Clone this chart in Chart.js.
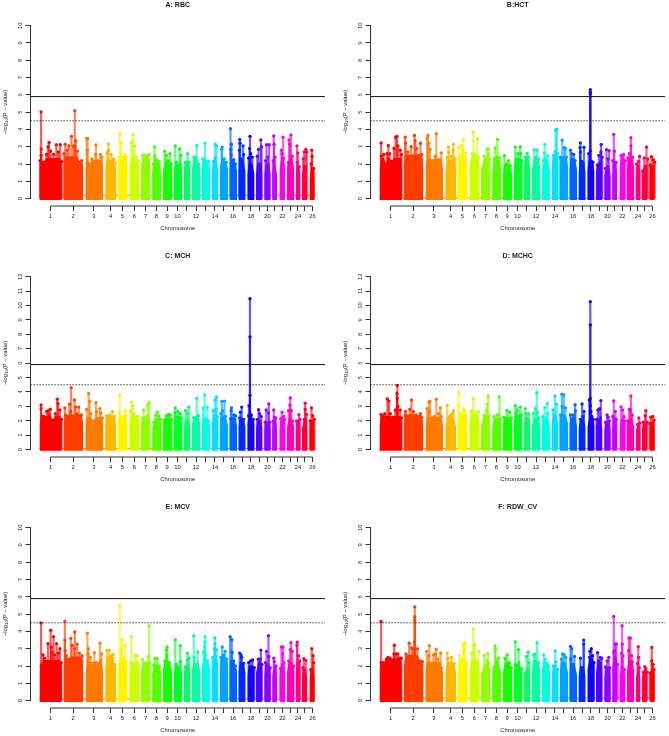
<!DOCTYPE html>
<html>
<head>
<meta charset="utf-8">
<title>Manhattan plots</title>
<script src="https://cdn.jsdelivr.net/npm/chart.js@4"></script>
<style>
  body { margin: 0; background: #fff; }
  #page { position: relative; width: 669px; height: 736px; overflow: hidden; }
  canvas { position: absolute; }
</style>
</head>
<body>
<div id="page">
  <canvas id="rbc" width="329" height="250" style="left:0;top:0"></canvas>
  <canvas id="hct" width="329" height="250" style="left:340px;top:0"></canvas>
  <canvas id="mch" width="329" height="250" style="left:0;top:251px"></canvas>
  <canvas id="mchc" width="329" height="250" style="left:340px;top:251px"></canvas>
  <canvas id="mcv" width="329" height="250" style="left:0;top:502px"></canvas>
  <canvas id="rdw" width="329" height="250" style="left:340px;top:502px"></canvas>
</div>
<script>
// x values are marker positions along the genome, y values are -log10(P)
const chromStart = [0, 73, 139, 199, 236, 272, 307, 341, 373, 406, 436, 461, 491, 521, 545, 575, 602, 629, 655, 680, 704, 726, 749, 775, 794, 817];
const chromEnd = [68, 133, 193, 232, 267, 303, 336, 369, 402, 432, 457, 487, 516, 541, 571, 598, 624, 651, 675, 700, 719, 744, 771, 790, 811, 833];
const tickPositions = [34, 102, 165, 215, 251, 287, 321, 354, 386, 418, 446, 474, 503, 531, 558, 586, 613, 640, 665, 690, 712, 735, 760, 782, 802, 826];
const tickLabels = ['1', '2', '3', '4', '5', '6', '7', '8', '9', '10', '', '12', '', '14', '', '16', '', '18', '', '20', '', '22', '', '24', '', '26'];
const chromColors = ['#FF0000', '#FF3D00', '#FF7A00', '#FFB800', '#FFF500', '#CCFF00', '#8FFF00', '#52FF00', '#14FF00', '#00FF29', '#00FF66', '#00FFA3', '#00FFE0',
    '#00E0FF', '#00A3FF', '#0066FF', '#0029FF', '#1400FF', '#5200FF', '#8F00FF', '#CC00FF', '#FF00F5', '#FF00B8', '#FF007A', '#FF003D', '#FF0000'];

const genomeWideLine = 5.9;
const suggestiveLine = 4.5;

// height of the solid block of markers, per chromosome
const rbcCore = [2.0, 2.1, 1.9, 1.9, 2.1, 2.0, 2.1, 1.8, 1.8, 1.8, 1.9, 2.0, 2.0, 1.9, 2.0, 1.9, 1.9, 1.7, 1.7, 1.7, 1.7, 2.0, 2.0, 1.6, 1.6, 1.4];
const hctCore = [2.0, 2.2, 2.0, 1.9, 2.2, 2.2, 2.0, 1.9, 1.7, 2.0, 2.0, 2.0, 1.9, 2.2, 2.1, 2.0, 1.8, 1.9, 1.8, 1.6, 1.8, 2.0, 2.0, 1.6, 1.6, 1.6];
const mchCore = [2.0, 2.1, 1.9, 2.0, 2.1, 2.0, 2.0, 1.8, 1.9, 2.0, 1.8, 2.0, 1.9, 2.1, 2.0, 1.9, 1.9, 2.0, 1.7, 1.6, 1.8, 1.8, 1.8, 1.7, 1.8, 1.7];
const mchcCore = [2.0, 2.1, 1.9, 1.9, 2.1, 2.1, 2.0, 1.8, 1.9, 2.1, 1.9, 1.8, 1.9, 2.0, 2.1, 1.9, 1.8, 1.9, 1.8, 1.6, 1.9, 1.8, 1.8, 1.5, 1.6, 1.6];
const mcvCore = [2.0, 2.2, 1.9, 2.2, 2.1, 1.9, 1.9, 1.8, 2.0, 1.8, 1.8, 2.0, 2.2, 2.3, 2.2, 2.0, 1.9, 1.7, 1.9, 1.8, 1.7, 1.8, 1.9, 1.9, 1.5, 1.5];
const rdwCore = [2.1, 2.3, 1.9, 1.9, 2.1, 2.0, 1.8, 1.9, 1.9, 1.8, 1.6, 2.0, 2.0, 1.7, 1.9, 1.8, 1.7, 2.1, 1.9, 1.6, 2.2, 1.7, 2.0, 1.5, 1.5, 1.5];

// thin red line near the bottom of each panel
const rbcFloor = 0.2;
const hctFloor = 0.02;
const mchFloor = 0.08;
const mchcFloor = 0.08;
const mcvFloor = 0.1;
const rdwFloor = 0.15;

const rbcPeaks = [[5,5.02],[5,2.87],[5,2.5],[2,2.2],[11,2.1],[21,2.55],[26,3.0],[29,3.25],[34,2.75],[43,2.55],[51,3.12],[57,2.7],[63,3.12],[67,2.15],
    [74,2.6],[78,3.15],[84,2.8],[89,3.05],[97,3.6],[103,3.05],[107,5.08],[107,3.0],[110,3.35],[115,2.75],[122,2.1],[128,2.2],
    [143,3.48],[146,3.48],[145,2.8],[153,2.0],[159,2.3],[170,2.55],[171,3.1],[177,2.2],[184,2.55],[189,2.4],
    [204,2.65],[209,3.17],[208,2.8],[217,2.55],[225,2.3],[229,2.05],[243,3.75],[247,3.25],[241,2.4],[253,2.4],[259,2.55],[263,2.4],
    [278,3.25],[283,3.72],[288,3.05],[293,2.4],[298,2.2],[312,2.52],[318,2.5],[325,2.5],[332,2.55],[348,3.0],[349,2.45],[354,2.25],[362,2.15],[345,2.0],
    [379,2.75],[384,2.5],[389,2.2],[395,2.6],[399,2.0],[411,3.05],[414,2.1],[419,1.9],[424,2.88],[428,2.5],[441,2.1],[448,2.6],[453,2.1],
    [467,2.4],[476,3.07],[473,2.4],[482,2.0],[494,2.3],[501,3.2],[507,2.15],[512,2.15],[526,2.15],[532,3.15],[536,3.05],[531,2.35],
    [553,2.98],[551,2.85],[559,2.3],[565,2.1],[578,4.05],[581,3.15],[579,2.85],[580,2.55],[588,2.25],[593,2.0],
    [606,3.42],[607,3.2],[605,2.8],[610,2.3],[616,3.05],[618,2.55],[637,3.6],[636,2.9],[639,2.6],[644,2.4],[633,2.35],
    [663,2.85],[659,2.45],[670,3.4],[666,2.0],[672,3.0],[687,3.12],[695,3.12],[691,2.4],[684,2.2],[709,3.62],[710,3.15],[713,2.4],[707,2.2],
    [737,3.55],[732,2.8],[734,2.6],[739,2.35],[755,3.4],[761,3.68],[758,3.15],[765,2.45],[753,2.1],[779,3.05],[782,2.65],[780,2.1],[786,1.85],
    [801,2.7],[806,2.85],[798,2.3],[809,2.7],[824,2.8],[825,2.45],[822,2.0],[830,1.75]];

const hctPeaks = [[5,3.22],[6,2.45],[13,2.55],[21,2.0],[27,3.07],[23,2.6],[31,2.6],[38,2.15],[44,2.9],[49,3.55],[53,3.6],[56,3.05],[63,2.8],[67,2.55],
    [78,3.55],[79,3.22],[86,2.7],[96,3.0],[106,3.65],[108,3.35],[113,2.9],[124,3.2],[119,2.5],[128,2.55],
    [144,3.5],[147,3.67],[149,3.2],[153,2.85],[162,2.2],[169,2.45],[172,3.75],[180,2.25],[187,2.65],
    [205,2.4],[209,2.98],[210,2.7],[218,2.45],[224,3.15],[223,2.8],[229,2.3],[240,2.98],[249,3.05],[254,3.42],[253,2.8],[261,2.65],
    [280,2.6],[284,3.85],[292,2.55],[297,3.48],[299,2.4],[317,2.45],[325,2.85],[330,2.88],[329,2.6],[333,2.3],
    [350,2.92],[357,3.43],[356,2.4],[364,2.35],[347,2.3],[378,2.48],[384,2.0],[391,2.2],[396,1.9],
    [411,2.98],[414,2.3],[419,2.6],[426,3.0],[427,2.6],[431,2.2],[441,2.4],[447,2.62],[451,2.4],[468,2.83],[477,2.8],[473,2.4],[481,2.3],
    [500,3.14],[499,2.65],[509,2.48],[496,2.2],[504,2.3],[533,3.97],[537,4.0],[531,2.7],[526,2.5],[539,2.6],
    [553,3.38],[559,2.95],[547,2.4],[563,2.9],[566,2.4],[578,2.8],[582,2.6],[588,2.55],[592,2.2],
    [608,3.22],[607,2.95],[608,2.7],[619,2.97],[613,2.15],[616,2.0],[638,6.3],[638,6.15],[638,6.05],[638,2.75],[633,2.6],[642,2.15],[646,2.1],
    [664,2.5],[671,3.13],[670,2.7],[674,2.4],[659,1.95],[687,2.83],[695,2.78],[691,2.3],[684,1.75],[709,3.72],[711,2.75],[706,2.2],[716,2.1],
    [731,2.5],[739,2.55],[735,2.45],[744,2.2],[761,3.52],[761,3.05],[756,2.6],[766,2.4],[752,2.35],[787,2.45],[784,2.15],[778,2.0],
    [808,2.98],[801,2.35],[812,2.3],[796,1.6],[823,2.42],[829,2.25],[819,1.95],[833,2.1]];

const mchPeaks = [[5,3.1],[5,2.85],[8,2.3],[13,2.3],[22,2.65],[27,2.7],[33,2.8],[29,2.4],[41,2.05],[48,2.5],[54,3.5],[56,3.2],[62,2.75],[67,2.1],
    [77,2.9],[79,2.4],[91,3.15],[96,4.3],[95,2.65],[106,3.45],[109,2.95],[119,2.95],[113,2.5],[127,2.4],
    [143,2.8],[149,3.9],[152,3.35],[155,2.5],[164,2.0],[171,3.25],[173,2.65],[183,2.85],[186,2.55],[190,2.2],
    [203,2.35],[212,2.4],[221,2.65],[227,2.3],[243,3.78],[242,2.6],[253,2.3],[260,2.7],[262,2.35],
    [276,2.65],[279,3.3],[283,3.05],[286,2.5],[294,2.3],[299,2.3],[315,2.75],[312,2.2],[327,3.1],[332,3.25],[324,2.3],
    [351,2.4],[357,2.6],[362,2.3],[346,1.9],[366,2.1],[377,2.05],[384,2.35],[391,2.45],[396,2.4],[400,2.1],
    [411,2.9],[410,2.55],[419,2.65],[426,2.5],[430,2.2],[442,2.7],[452,2.95],[448,2.5],[445,1.9],[467,2.25],[476,3.57],[481,2.35],[473,2.2],
    [495,2.9],[500,3.8],[508,2.95],[506,2.1],[512,2.0],[526,2.7],[531,3.45],[536,3.65],[534,2.8],[538,2.3],
    [552,3.35],[560,3.37],[554,2.7],[563,2.3],[549,2.5],[581,2.9],[580,2.7],[588,2.4],[593,2.35],[578,2.15],[612,2.95],[608,2.6],[606,2.2],[618,2.1],
    [637,10.47],[637,7.83],[637,3.77],[634,3.05],[633,2.35],[641,2.4],[647,2.1],[663,2.77],[666,2.5],[671,2.3],[659,2.1],
    [686,2.75],[694,3.18],[693,2.55],[683,1.9],[697,1.9],[709,2.75],[711,2.25],[715,2.2],[707,2.0],[734,2.6],[739,2.3],[730,2.15],[742,2.1],
    [759,3.58],[758,3.1],[762,2.7],[754,2.7],[766,2.0],[785,2.42],[778,2.0],[788,2.1],[804,3.22],[804,2.8],[801,2.1],[808,2.45],[823,2.9],[827,2.35],[819,2.0],[832,2.1]];

const mchcPeaks = [[5,2.45],[16,2.5],[11,2.3],[24,3.52],[29,3.37],[33,2.5],[41,2.25],[48,2.75],[54,4.45],[53,3.9],[54,3.55],[56,3.0],[63,2.75],[67,2.2],
    [79,2.65],[78,2.4],[92,2.8],[97,3.45],[103,2.65],[111,2.4],[124,2.5],[119,2.3],[128,2.25],
    [144,2.85],[150,3.3],[153,3.37],[151,2.6],[158,2.2],[166,2.3],[172,3.5],[179,2.5],[184,2.9],[187,2.3],
    [205,3.07],[212,2.3],[218,2.4],[224,2.7],[221,2.5],[240,3.97],[240,3.05],[246,2.5],[254,2.85],[258,2.7],[262,2.4],
    [277,2.65],[284,3.55],[281,2.7],[290,2.55],[299,2.65],[316,2.35],[324,2.7],[326,3.15],[329,3.72],[332,2.35],
    [347,2.3],[357,2.4],[363,3.67],[366,2.15],[353,2.1],[377,2.25],[386,2.72],[394,2.6],[399,2.2],
    [411,3.05],[413,2.55],[417,2.75],[426,2.95],[429,2.4],[441,2.85],[444,2.5],[452,2.5],[472,2.85],[476,3.95],[478,2.6],[466,2.5],[482,2.2],
    [494,2.3],[500,2.92],[508,3.2],[509,2.5],[525,2.75],[531,3.72],[536,3.15],[529,2.4],[552,3.85],[558,3.8],[553,3.0],[563,2.9],[547,2.4],
    [578,2.4],[586,2.4],[592,3.12],[593,2.7],[613,3.17],[619,2.65],[608,2.1],[616,2.3],
    [638,10.27],[638,8.65],[638,3.55],[635,3.45],[638,3.05],[640,2.65],[643,2.3],[647,2.1],[661,2.75],[666,2.85],[670,3.4],[669,2.2],[657,2.1],
    [689,2.4],[684,1.9],[696,2.0],[692,2.25],[709,3.38],[714,2.65],[706,2.3],[717,2.1],[731,2.97],[736,2.75],[740,2.3],[743,2.0],
    [756,2.8],[761,3.72],[759,2.75],[765,2.4],[751,2.0],[785,2.2],[781,1.75],[788,1.85],[806,2.7],[804,2.35],[810,1.9],[798,1.9],[821,2.25],[827,2.3],[831,2.05],[818,1.8]];

const mcvPeaks = [[5,4.5],[5,2.0],[11,2.65],[16,2.45],[26,3.3],[34,4.07],[36,3.1],[38,2.8],[43,3.7],[46,2.65],[52,3.3],[57,2.75],[62,3.0],[66,2.2],
    [77,4.6],[77,3.5],[78,2.9],[81,2.6],[95,3.6],[99,3.2],[107,3.97],[106,3.0],[114,3.27],[121,2.75],[129,2.6],[86,2.4],
    [145,3.9],[148,3.0],[147,2.7],[154,2.5],[166,2.77],[171,2.2],[183,3.32],[188,2.7],[185,2.3],
    [204,2.9],[211,2.92],[216,2.6],[223,2.67],[228,2.1],[243,5.5],[246,3.0],[250,3.55],[259,3.2],[255,2.5],[262,2.3],
    [278,3.72],[276,2.2],[289,2.6],[296,2.6],[300,2.1],[312,2.38],[322,2.2],[332,4.32],[330,2.55],[334,2.2],
    [350,2.45],[357,2.42],[346,2.05],[363,2.0],[386,3.1],[386,2.6],[379,2.3],[394,2.2],[384,2.95],
    [411,3.52],[414,2.1],[426,3.18],[427,2.25],[421,1.9],[448,2.75],[447,2.35],[441,1.95],[453,2.45],[467,3.75],[468,2.5],[479,2.82],[475,2.1],
    [501,3.7],[501,3.4],[500,3.1],[497,2.8],[503,2.65],[509,2.3],[531,3.62],[531,3.3],[529,3.0],[536,2.95],[524,2.5],
    [553,3.1],[562,2.85],[557,2.65],[549,2.5],[567,2.4],[577,3.7],[582,3.52],[583,2.8],[588,2.3],[593,2.0],[606,2.75],[612,2.5],[618,2.15],[610,2.65],
    [633,2.2],[639,2.3],[645,2.35],[650,1.9],[662,2.4],[670,2.92],[667,2.4],[673,2.1],[687,2.85],[693,3.75],[694,2.55],[684,2.2],[698,1.9],
    [709,2.45],[711,2.25],[716,2.0],[732,3.1],[737,3.1],[736,2.7],[740,2.2],[729,1.85],[761,3.35],[759,2.95],[765,2.85],[754,2.3],[769,2.0],
    [780,3.38],[779,3.2],[784,2.6],[788,2.3],[800,2.42],[806,2.33],[797,1.9],[824,3.0],[828,2.6],[830,2.2],[821,1.8]];

const rdwPeaks = [[5,4.58],[5,2.2],[12,2.2],[21,2.4],[26,2.5],[32,2.45],[45,3.2],[44,2.7],[51,2.7],[56,2.7],[61,2.45],[66,2.45],
    [80,2.7],[90,3.32],[97,3.05],[107,5.42],[107,4.85],[107,4.65],[106,3.4],[102,3.0],[115,3.0],[124,2.3],[130,2.25],
    [143,2.85],[151,3.18],[149,2.6],[163,2.65],[172,2.97],[169,2.7],[177,2.4],[185,2.75],[188,1.9],
    [205,2.75],[207,2.45],[218,2.5],[214,2.2],[226,2.15],[242,2.6],[253,3.25],[260,3.35],[256,2.95],[264,2.2],
    [279,2.75],[284,4.15],[288,3.27],[286,3.2],[300,2.85],[294,2.3],[317,2.6],[328,2.72],[325,2.3],[331,2.2],
    [350,3.17],[351,3.0],[360,2.45],[355,2.3],[346,1.9],[380,2.45],[387,2.65],[393,2.2],[399,1.9],
    [411,3.4],[411,2.1],[421,2.95],[422,2.2],[430,1.85],[445,2.55],[450,2.8],[453,2.2],[441,1.6],[466,2.65],[477,3.35],[471,2.7],[481,2.2],
    [497,2.65],[502,2.4],[507,2.15],[512,2.0],[532,2.87],[534,2.25],[526,2.0],[539,1.8],[554,2.7],[559,2.65],[550,2.4],[564,2.5],
    [578,3.13],[582,3.0],[579,2.4],[590,2.55],[586,2.1],[608,2.45],[618,3.5],[618,3.27],[614,1.9],[637,2.85],[641,3.0],[636,2.5],[645,2.6],[649,2.2],
    [660,2.77],[663,2.3],[668,2.5],[672,2.45],[684,1.95],[689,2.3],[694,2.5],[697,1.9],[709,4.87],[709,2.8],[714,3.28],[717,3.28],[712,2.9],[721,2.1],
    [734,4.33],[735,3.27],[732,2.75],[737,2.6],[741,1.8],[755,3.62],[759,3.62],[754,2.9],[763,2.6],[765,2.25],[783,3.12],[784,2.5],[781,2.15],[786,1.9],
    [803,1.97],[806,1.85],[798,1.65],[810,1.65],[824,3.07],[824,2.3],[828,2.1],[831,1.8],[819,1.6]];

const xMin = -27;
const xMax = 864;
const textColor = '#222';
const axisColor = '#333';
const fontFamily = '"Liberation Sans", Arial, sans-serif';

function chromIndex(x) {
    for (let i = 0; i < chromEnd.length; i++) {
        if (x <= chromEnd[i] + 2) return i;
    }
    return chromEnd.length - 1;
}

function withAlpha(hex, alpha) {
    const a = Math.round(alpha * 255).toString(16).padStart(2, '0');
    return hex + a;
}

// top edge of a chromosome's solid block, following the peaks read for it
function blockOutline(peaks, core, i) {
    const inside = peaks.filter(p => chromIndex(p[0]) === i).sort((a, b) => a[0] - b[0]);
    const outline = [{ x: chromStart[i], y: core[i] - 0.3 }];
    inside.forEach(p => outline.push({ x: p[0], y: Math.min(p[1], core[i] + 0.35) }));
    outline.push({ x: chromEnd[i], y: core[i] - 0.3 });
    return outline;
}

// R style axes: the lines stop at the outer ticks and the y labels are turned
const rAxes = {
    id: 'rAxes',
    afterDraw(chart) {
        const { ctx, chartArea, scales } = chart;
        const yTop = scales.y.getPixelForValue(scales.y.max);
        const yZero = scales.y.getPixelForValue(0);
        ctx.save();
        ctx.strokeStyle = axisColor;
        ctx.lineWidth = 1;
        ctx.beginPath();
        ctx.moveTo(chartArea.left, yTop);
        ctx.lineTo(chartArea.left, yZero);
        ctx.moveTo(scales.x.getPixelForValue(tickPositions[0]), chartArea.bottom);
        ctx.lineTo(scales.x.getPixelForValue(tickPositions[tickPositions.length - 1]), chartArea.bottom);
        ctx.stroke();
        ctx.fillStyle = textColor;
        ctx.font = '5.8px ' + fontFamily;
        ctx.textAlign = 'center';
        ctx.textBaseline = 'middle';
        scales.y.ticks.forEach(t => {
            ctx.save();
            ctx.translate(20.7, scales.y.getPixelForValue(t.value));
            ctx.rotate(-Math.PI / 2);
            ctx.fillText(String(t.value), 0, 0);
            ctx.restore();
        });
        // y title with a real subscript
        const parts = [['−log', 5.8, 0], ['10', 4.4, 1.5], ['(P − value)', 5.8, 0]];
        let total = 0;
        parts.forEach(p => { ctx.font = p[1] + 'px ' + fontFamily; total += ctx.measureText(p[0]).width; });
        ctx.translate(5, 112);
        ctx.rotate(-Math.PI / 2);
        ctx.textAlign = 'left';
        let pos = -total / 2;
        parts.forEach(p => {
            ctx.font = p[1] + 'px ' + fontFamily;
            ctx.fillText(p[0], pos, p[2]);
            pos += ctx.measureText(p[0]).width;
        });
        ctx.restore();
    }
};

function renderManhattan(id, title, yMax, peaks, core, floor) {
    const yTicks = [];
    for (let v = 0; v <= yMax; v++) yTicks.push(v);

    const datasets = [];
    chromStart.forEach((start, i) => {
        datasets.push({
            type: 'line',
            data: blockOutline(peaks, core, i),
            backgroundColor: chromColors[i],
            borderWidth: 0,
            pointRadius: 0,
            fill: { target: { value: -0.08 } },
            order: 5
        });
    });
    const pointColors = peaks.map(p => chromColors[chromIndex(p[0])]);
    const peakData = peaks.map(p => ({ x: p[0], y: p[1] }));
    datasets.push({
        type: 'bar',
        data: peakData,
        backgroundColor: pointColors.map(c => withAlpha(c, 0.65)),
        barThickness: 1.5,
        grouped: false,
        order: 3
    });
    datasets.push({
        type: 'scatter',
        data: peakData,
        backgroundColor: pointColors,
        borderWidth: 0,
        pointRadius: 1.65,
        order: 2
    });
    datasets.push({
        type: 'line',
        data: [{ x: chromStart[0], y: floor }, { x: chromEnd[chromEnd.length - 1], y: floor }],
        borderColor: '#e8202a',
        borderWidth: 0.6,
        pointRadius: 0,
        order: 6
    });
    datasets.push({
        type: 'line',
        data: [{ x: xMin, y: genomeWideLine }, { x: xMax, y: genomeWideLine }],
        borderColor: '#111',
        borderWidth: 1,
        pointRadius: 0,
        order: 1
    });
    datasets.push({
        type: 'line',
        data: [{ x: xMin, y: suggestiveLine }, { x: xMax, y: suggestiveLine }],
        borderColor: '#111',
        borderWidth: 1,
        borderDash: [1.2, 1.8],
        pointRadius: 0,
        order: 1
    });

    new Chart(document.getElementById(id).getContext('2d'), {
        type: 'bar',
        data: { datasets: datasets },
        plugins: [rAxes],
        options: {
            responsive: false,
            animation: false,
            layout: { padding: { left: 0, right: 1.3, top: 0, bottom: 0 } },
            plugins: {
                legend: { display: false },
                tooltip: { enabled: false },
                title: {
                    display: true,
                    text: title,
                    fullSize: false,
                    color: textColor,
                    font: { family: fontFamily, size: 7, weight: 'bold', lineHeight: 1.2 },
                    padding: { top: 0.5, bottom: 16.8 }
                }
            },
            scales: {
                x: {
                    type: 'linear',
                    min: xMin,
                    max: xMax,
                    offset: false,
                    afterBuildTicks: scale => { scale.ticks = tickPositions.map(v => ({ value: v })); },
                    afterFit: scale => { scale.height = 44; },
                    border: { display: false },
                    grid: { offset: false, drawOnChartArea: false, tickLength: 5, color: axisColor, tickColor: axisColor },
                    ticks: {
                        autoSkip: false,
                        maxRotation: 0,
                        padding: 2.3,
                        color: textColor,
                        font: { family: fontFamily, size: 5.8 },
                        callback: value => tickLabels[tickPositions.indexOf(value)]
                    },
                    title: {
                        display: true,
                        text: 'Chromosome',
                        color: textColor,
                        font: { family: fontFamily, size: 5.8 },
                        padding: { top: 0, bottom: 18.5 }
                    }
                },
                y: {
                    min: -yMax * 0.0428,
                    max: yMax,
                    afterBuildTicks: scale => { scale.ticks = yTicks.map(v => ({ value: v })); },
                    afterFit: scale => { scale.width = 30.5; },
                    border: { display: false },
                    grid: { drawOnChartArea: false, tickLength: 5, color: axisColor, tickColor: axisColor },
                    ticks: { display: false }
                }
            }
        }
    });
}

renderManhattan('rbc', 'A: RBC', 10, rbcPeaks, rbcCore, rbcFloor);
renderManhattan('hct', 'B:HCT', 10, hctPeaks, hctCore, hctFloor);
renderManhattan('mch', 'C: MCH', 12, mchPeaks, mchCore, mchFloor);
renderManhattan('mchc', 'D: MCHC', 12, mchcPeaks, mchcCore, mchcFloor);
renderManhattan('mcv', 'E: MCV', 10, mcvPeaks, mcvCore, mcvFloor);
renderManhattan('rdw', 'F: RDW_CV', 10, rdwPeaks, rdwCore, rdwFloor);
</script>
</body>
</html>
